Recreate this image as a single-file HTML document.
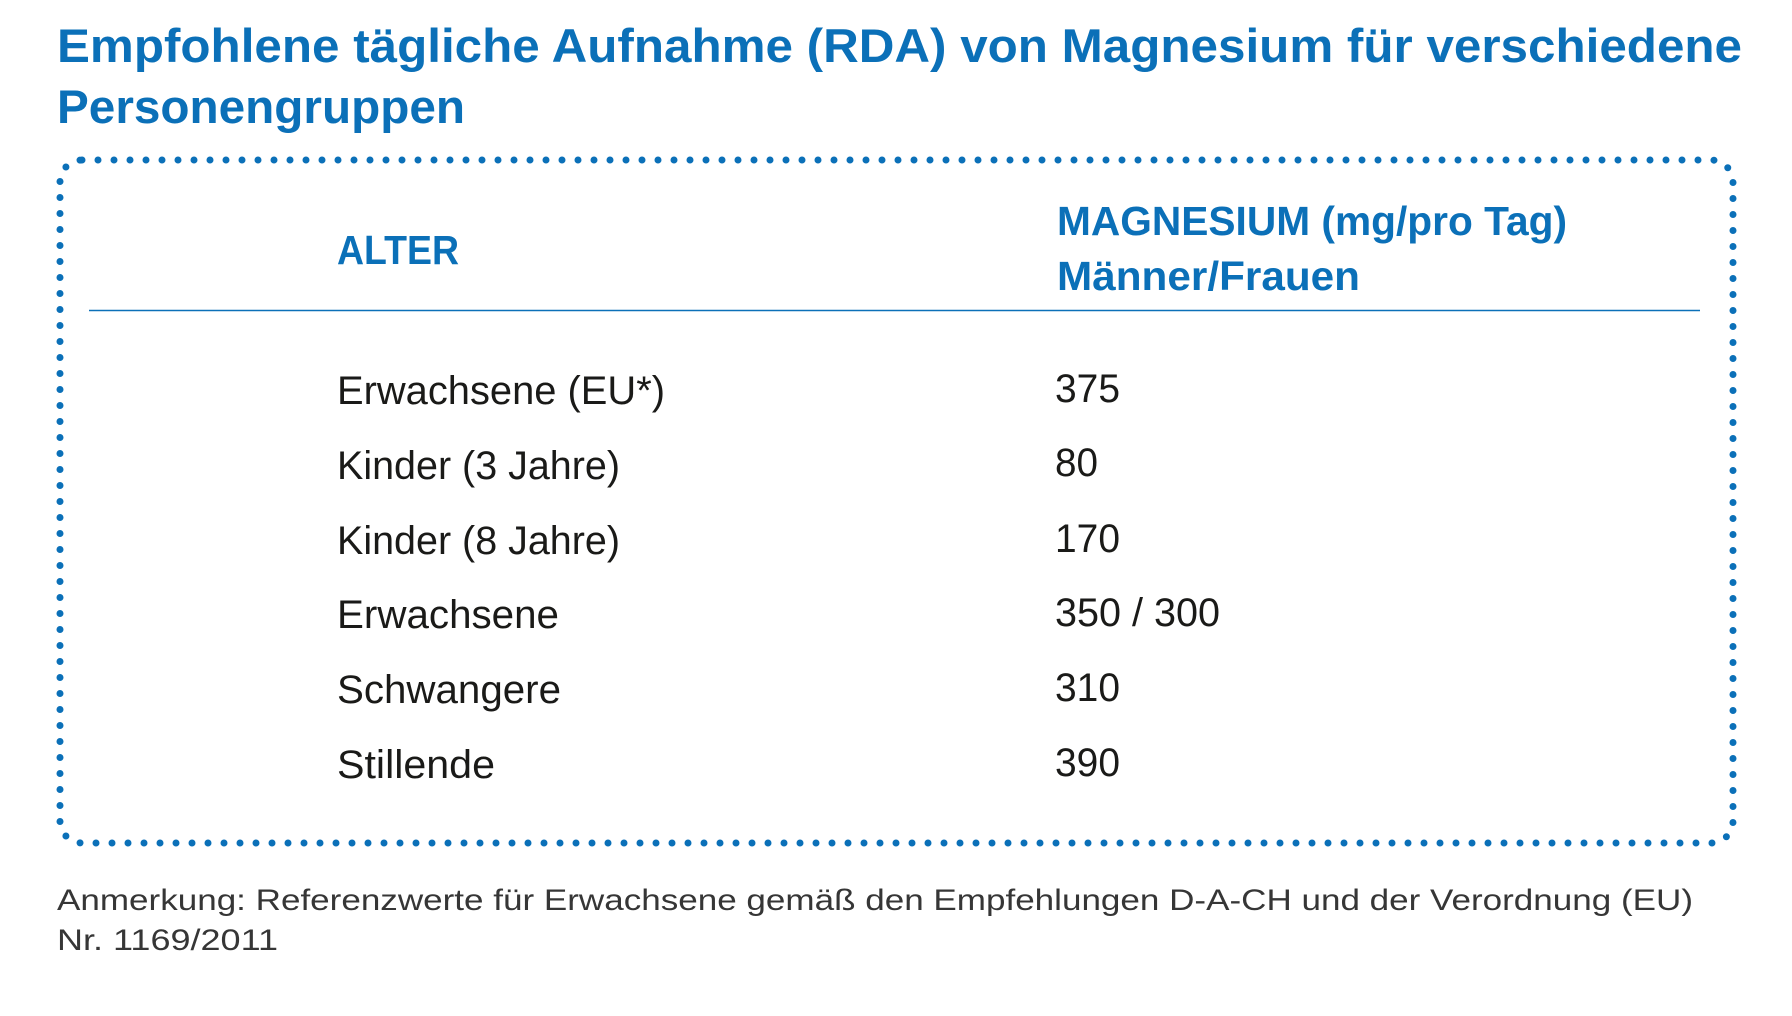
<!DOCTYPE html>
<html>
<head>
<meta charset="utf-8">
<style>
  html, body { margin: 0; padding: 0; background: #ffffff; }
  body { width: 1792px; height: 1016px; overflow: hidden; }
  svg { display: block; }
  .title { font-family: "Liberation Sans", sans-serif; font-weight: bold; font-size: 47px; fill: #0b70b8; }
  .head { font-family: "Liberation Sans", sans-serif; font-weight: bold; font-size: 41px; fill: #0b70b8; }
  .row { font-family: "Liberation Sans", sans-serif; font-size: 40px; fill: #1a1a18; }
  .note { font-family: "Liberation Sans", sans-serif; font-size: 30px; fill: #363636; }
</style>
</head>
<body>
<svg width="1792" height="1016" viewBox="0 0 1792 1016" xmlns="http://www.w3.org/2000/svg">
  <rect x="0" y="0" width="1792" height="1016" fill="#ffffff"/>

  <!-- Title -->
  <text class="title" x="57" y="62" textLength="1685" lengthAdjust="spacingAndGlyphs">Empfohlene tägliche Aufnahme (RDA) von Magnesium für verschiedene</text>
  <text class="title" x="57" y="123" textLength="408" lengthAdjust="spacingAndGlyphs">Personengruppen</text>

  <!-- Dotted rounded box -->
  <rect x="60" y="160" width="1673" height="683" rx="22" ry="22" fill="none"
        stroke="#0b70b8" stroke-width="7" stroke-linecap="round" stroke-dasharray="0 16"/>

  <!-- Header -->
  <text class="head" x="337" y="264" textLength="122" lengthAdjust="spacingAndGlyphs">ALTER</text>
  <text class="head" x="1057" y="235" textLength="510" lengthAdjust="spacingAndGlyphs">MAGNESIUM (mg/pro Tag)</text>
  <text class="head" x="1057" y="290" textLength="303" lengthAdjust="spacingAndGlyphs">Männer/Frauen</text>

  <!-- Header rule -->
  <line x1="89" y1="310.5" x2="1700" y2="310.5" stroke="#0b70b8" stroke-width="1.4"/>

  <!-- Rows: left column -->
  <text class="row" x="337" y="404" textLength="328" lengthAdjust="spacingAndGlyphs">Erwachsene (EU*)</text>
  <text class="row" x="337" y="479" textLength="283" lengthAdjust="spacingAndGlyphs">Kinder (3 Jahre)</text>
  <text class="row" x="337" y="554" textLength="283" lengthAdjust="spacingAndGlyphs">Kinder (8 Jahre)</text>
  <text class="row" x="337" y="628" textLength="222" lengthAdjust="spacingAndGlyphs">Erwachsene</text>
  <text class="row" x="337" y="703" textLength="224" lengthAdjust="spacingAndGlyphs">Schwangere</text>
  <text class="row" x="337" y="778" textLength="158" lengthAdjust="spacingAndGlyphs">Stillende</text>

  <!-- Rows: right column -->
  <text class="row" x="1055" y="402" textLength="65" lengthAdjust="spacingAndGlyphs">375</text>
  <text class="row" x="1055" y="476" textLength="43" lengthAdjust="spacingAndGlyphs">80</text>
  <text class="row" x="1055" y="552" textLength="65" lengthAdjust="spacingAndGlyphs">170</text>
  <text class="row" x="1055" y="626" textLength="165" lengthAdjust="spacingAndGlyphs">350 / 300</text>
  <text class="row" x="1055" y="701" textLength="65" lengthAdjust="spacingAndGlyphs">310</text>
  <text class="row" x="1055" y="776" textLength="65" lengthAdjust="spacingAndGlyphs">390</text>

  <!-- Footnote -->
  <text class="note" x="57" y="910" textLength="1636" lengthAdjust="spacingAndGlyphs">Anmerkung: Referenzwerte für Erwachsene gemäß den Empfehlungen D-A-CH und der Verordnung (EU)</text>
  <text class="note" x="57" y="950" textLength="221" lengthAdjust="spacingAndGlyphs">Nr. 1169/2011</text>
</svg>
</body>
</html>
